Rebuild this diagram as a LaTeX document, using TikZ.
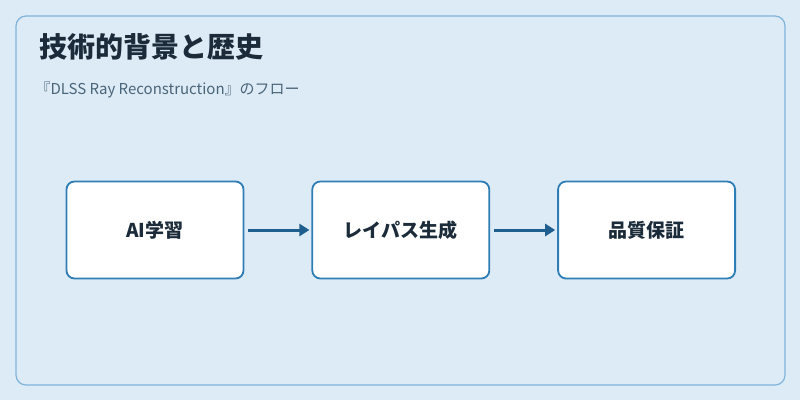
\documentclass[tikz,border=0pt]{standalone}
\usepackage{fontspec}
\setmainfont{Noto Sans CJK JP}
\usetikzlibrary{positioning,arrows.meta}
\definecolor{bgblue}{HTML}{DDEBF6}
\definecolor{frameblue}{HTML}{7FB3D9}
\definecolor{boxline}{HTML}{2E7DB5}
\definecolor{arrowblue}{HTML}{1F5F8F}
\definecolor{titlecol}{HTML}{1C2B3A}
\definecolor{subcol}{HTML}{4A6478}
\tikzstyle{line} = [draw=arrowblue, line width=3pt, -{Triangle[length=10pt,width=12pt]}]
\tikzstyle{block} = [draw=boxline, fill=white, line width=1.8pt, rounded corners=8pt, minimum width=177pt, minimum height=97pt, font=\fontsize{19}{22}\selectfont\bfseries, text=titlecol]
\begin{document}
\begin{tikzpicture}[x=1pt, y=-1pt, node distance=67pt]
        \useasboundingbox (0,0) rectangle (800,400);
        \fill[bgblue] (0,0) rectangle (800,400);
        \draw[frameblue, line width=1.2pt, rounded corners=10pt, fill=bgblue] (16,16) rectangle (785,385);
        \node[anchor=west, text=titlecol, font=\fontsize{28}{32}\selectfont\bfseries] (title) at (36,47) {技術的背景と歴史};
        \node[anchor=west, text=subcol, font=\fontsize{15}{18}\selectfont] (sub) at (32,90) {『DLSS Ray Reconstruction』のフロー};
        \node[block] (train) at (155,230) {AI学習};
        \node[block, right=of train] (path) {レイパス生成};
        \node[block, right=of path] (qa) {品質保証};
        \path[line] (train.east) ++(4,0) -- ([xshift=-2pt]path.west);
        \path[line] (path.east) ++(4,0) -- ([xshift=-2pt]qa.west);
    \end{tikzpicture}
\end{document}
